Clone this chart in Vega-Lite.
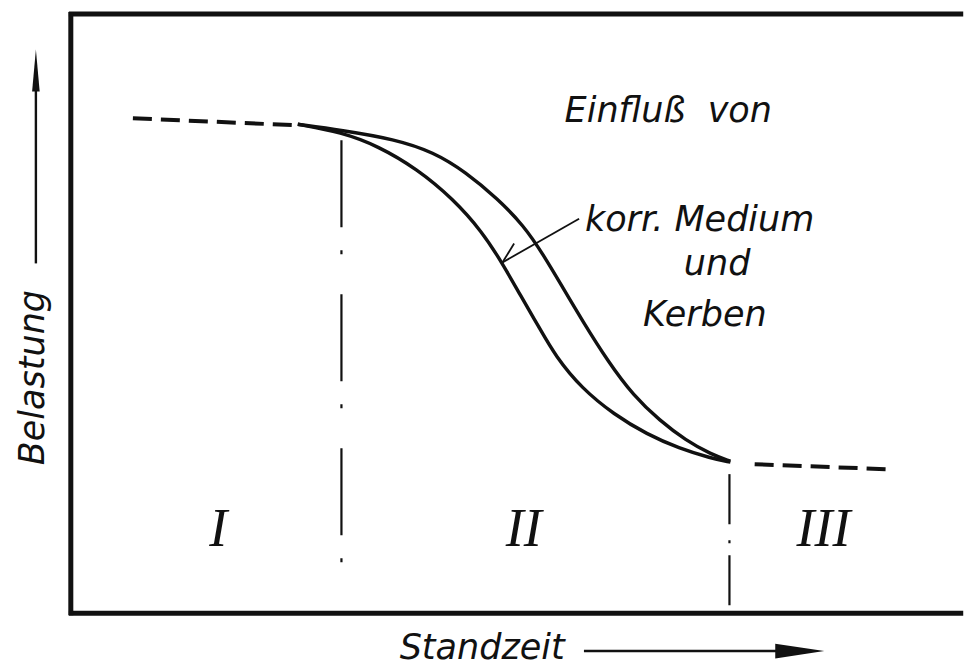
{
  "$schema": "https://vega.github.io/schema/vega-lite/v6.json",
  "width": 967,
  "height": 666,
  "autosize": {"type": "fit", "contains": "padding"},
  "padding": 0,
  "background": "white",
  "config": {"view": {"stroke": null}},
  "datasets": {
    "curves": [
      {"series": "inner", "x": 234, "y": 492},
      {"series": "inner", "x": 279, "y": 484},
      {"series": "inner", "x": 317, "y": 470},
      {"series": "inner", "x": 357, "y": 447},
      {"series": "inner", "x": 394, "y": 417},
      {"series": "inner", "x": 424, "y": 384},
      {"series": "inner", "x": 445, "y": 352},
      {"series": "inner", "x": 464, "y": 319},
      {"series": "inner", "x": 482, "y": 289},
      {"series": "inner", "x": 500, "y": 258},
      {"series": "inner", "x": 527, "y": 226},
      {"series": "inner", "x": 560, "y": 200},
      {"series": "inner", "x": 594, "y": 180},
      {"series": "inner", "x": 627, "y": 166},
      {"series": "inner", "x": 660, "y": 156},
      {"series": "inner", "x": 680, "y": 152},
      {"series": "outer", "x": 234, "y": 492},
      {"series": "outer", "x": 279, "y": 486},
      {"series": "outer", "x": 334, "y": 477},
      {"series": "outer", "x": 374, "y": 464},
      {"series": "outer", "x": 407, "y": 444},
      {"series": "outer", "x": 440, "y": 417},
      {"series": "outer", "x": 467, "y": 390},
      {"series": "outer", "x": 487, "y": 361},
      {"series": "outer", "x": 507, "y": 328},
      {"series": "outer", "x": 527, "y": 295},
      {"series": "outer", "x": 554, "y": 253},
      {"series": "outer", "x": 580, "y": 219},
      {"series": "outer", "x": 607, "y": 194},
      {"series": "outer", "x": 634, "y": 174},
      {"series": "outer", "x": 660, "y": 160},
      {"series": "outer", "x": 680, "y": 153}
    ],
    "dashed": [
      {"seg": "left", "x": 64, "y": 498},
      {"seg": "left", "x": 232, "y": 491},
      {"seg": "right", "x": 705, "y": 150},
      {"seg": "right", "x": 840, "y": 145}
    ],
    "box": [
      {"x": -2, "x2": 920, "y": 603, "y2": 603},
      {"x": -2, "x2": 920, "y": 0, "y2": 0},
      {"x": 0, "x2": 0, "y": 605, "y2": -2}
    ],
    "vleft": [{"x": 279, "y": 476, "y2": 11}],
    "vright": [{"x": 679, "y": 140, "y2": 7}],
    "arrows": [
      {"x": 524, "y": 397, "x2": 445, "y2": 353, "w": 1.8},
      {"x": 457, "y": 372, "x2": 445, "y2": 353, "w": 1.8},
      {"x": -36, "y": 352, "x2": -36, "y2": 530, "w": 2.4},
      {"x": 529, "y": -38, "x2": 730, "y2": -38, "w": 2.4}
    ],
    "headsUp": [{"x": -36, "y": 546}],
    "headsRight": [{"x": 751.5, "y": -38}],
    "labels": [
      {"text": "Einfluß\u00a0\u00a0von", "x": 509, "y": 494},
      {"text": "korr. Medium", "x": 530, "y": 385},
      {"text": "und", "x": 632, "y": 340},
      {"text": "Kerben", "x": 590, "y": 289},
      {"text": "Standzeit", "x": 339, "y": -46}
    ],
    "ylabel": [{"text": "Belastung", "x": -28, "y": 149}],
    "roman": [
      {"text": "I", "x": 152, "y": 68},
      {"text": "II", "x": 467, "y": 68},
      {"text": "III", "x": 776, "y": 68}
    ]
  },
  "encoding": {
    "x": {"field": "x", "type": "quantitative", "scale": {"domain": [-73, 894], "nice": false, "zero": false}, "axis": null},
    "y": {"field": "y", "type": "quantitative", "scale": {"domain": [-49, 617], "nice": false, "zero": false}, "axis": null}
  },
  "layer": [
    {
      "data": {"name": "box"},
      "mark": {"type": "rule", "color": "#111111", "strokeWidth": 5},
      "encoding": {"x2": {"field": "x2"}, "y2": {"field": "y2"}}
    },
    {
      "data": {"name": "vleft"},
      "mark": {"type": "rule", "color": "#111111", "strokeWidth": 2.2, "strokeDash": [87, 23, 4, 40]},
      "encoding": {"y2": {"field": "y2"}}
    },
    {
      "data": {"name": "vright"},
      "mark": {"type": "rule", "color": "#111111", "strokeWidth": 2.2, "strokeDash": [50, 16, 3, 12]},
      "encoding": {"y2": {"field": "y2"}}
    },
    {
      "data": {"name": "dashed"},
      "mark": {"type": "line", "color": "#111111", "strokeWidth": 4, "strokeDash": [19, 9]},
      "encoding": {"detail": {"field": "seg"}}
    },
    {
      "data": {"name": "curves"},
      "mark": {"type": "line", "color": "#111111", "strokeWidth": 3.4, "interpolate": "basis"},
      "encoding": {"detail": {"field": "series"}}
    },
    {
      "data": {"name": "arrows"},
      "mark": {"type": "rule", "color": "#111111"},
      "encoding": {"x2": {"field": "x2"}, "y2": {"field": "y2"}, "strokeWidth": {"field": "w", "type": "quantitative", "scale": null}}
    },
    {
      "data": {"name": "headsUp"},
      "mark": {"type": "point", "filled": true, "color": "#111111", "opacity": 1, "size": 1764, "shape": "M0,-1L0.18,1L-0.18,1Z"}
    },
    {
      "data": {"name": "headsRight"},
      "mark": {"type": "point", "filled": true, "color": "#111111", "opacity": 1, "size": 2401, "shape": "M1,0L-1,0.3L-1,-0.3Z"}
    },
    {
      "data": {"name": "labels"},
      "mark": {"type": "text", "align": "left", "baseline": "alphabetic", "font": "DejaVu Sans", "fontStyle": "italic", "fontSize": 35, "color": "#111111"},
      "encoding": {"text": {"field": "text"}}
    },
    {
      "data": {"name": "ylabel"},
      "mark": {"type": "text", "align": "left", "baseline": "alphabetic", "angle": 270, "font": "DejaVu Sans", "fontStyle": "italic", "fontSize": 35, "color": "#111111"},
      "encoding": {"text": {"field": "text"}}
    },
    {
      "data": {"name": "roman"},
      "mark": {"type": "text", "align": "center", "baseline": "alphabetic", "font": "Liberation Serif", "fontStyle": "italic", "fontSize": 54, "color": "#111111"},
      "encoding": {"text": {"field": "text"}}
    }
  ]
}
